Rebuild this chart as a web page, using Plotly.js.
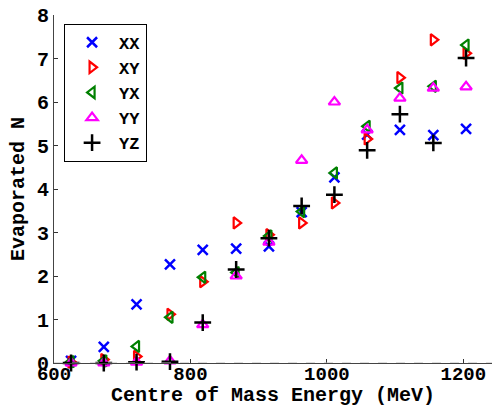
<!DOCTYPE html>
<html><head><meta charset="utf-8">
<script src="https://cdn.plot.ly/plotly-3.0.1.min.js"></script>
<style>html,body{margin:0;padding:0;background:#fff}#chart{width:492px;height:407px}</style>
</head><body><div id="chart"></div>
<script>
const energy = [625, 673, 721, 770, 818, 867, 915, 963, 1011, 1059, 1107, 1156, 1204];
const seriesNames = ['XX', 'XY', 'YX', 'YY', 'YZ'];
const XX = [0.05, 0.37, 1.35, 2.27, 2.60, 2.63, 2.68, 3.47, 4.27, 5.25, 5.36, 5.24, 5.38];
const XY = [0.02, 0.08, 0.15, 1.12, 1.87, 3.22, 2.95, 3.22, 3.68, 5.15, 6.56, 7.43, 7.12];
const YX = [0.03, 0.05, 0.38, 1.05, 1.97, 2.08, 2.92, 3.48, 4.37, 5.44, 6.32, 6.36, 7.31];
const YY = [0.00, 0.00, 0.02, 0.05, 0.88, 2.00, 2.78, 4.66, 6.00, 5.36, 6.09, 6.32, 6.35];
const YZ = [0.00, 0.00, 0.02, 0.03, 0.93, 2.15, 2.87, 3.61, 3.87, 4.89, 5.72, 5.06, 7.01];
const values = [XX, XY, YX, YY, YZ];
const colors = ['#0000ff', '#ff0000', '#008000', '#ff00ff', '#000000'];
const symbols = ['x-thin-open', 'triangle-right-open', 'triangle-left-open', 'triangle-up-open', 'cross-thin-open'];
const sizes = [10, 10, 10, 10, 12];
const widths = [2.5, 2.2, 2.2, 2.2, 2.5];

const FAM = 'Liberation Mono, Courier New, monospace';
const FONT = {family: FAM, size: 20, color: '#000', weight: 'bold'};
const XTICKFONT = {family: FAM, size: 19, color: '#000', weight: 'bold'};
const TITLEFONT = {family: FAM, size: 20, color: '#000', weight: 'bold'};
const LEGFONT = {family: FAM, size: 17, color: '#000', weight: 'bold'};

const traces = seriesNames.map((n, i) => ({
  type: 'scatter', mode: 'markers', name: n, x: energy, y: values[i],
  marker: {symbol: symbols[i], size: sizes[i], color: colors[i], line: {color: colors[i], width: widths[i]}},
  cliponaxis: false
}));

const layout = {
  width: 492, height: 407,
  margin: {l: 54, r: 0, t: 15, b: 44},
  paper_bgcolor: '#fff', plot_bgcolor: '#fff',
  font: FONT,
  showlegend: true,
  legend: {x: 0.023, y: 0.975, xanchor: 'left', yanchor: 'top', bgcolor: '#fff',
    bordercolor: '#000', borderwidth: 1, font: LEGFONT, itemwidth: 44, tracegroupgap: 0},
  xaxis: {range: [600, 1242], tickvals: [600, 800, 1000, 1200], ticks: 'inside', ticklen: 4,
    tickcolor: '#333', showline: true, linecolor: '#444', linewidth: 1, showgrid: false, zeroline: false,
    tickfont: XTICKFONT, ticklabelstandoff: -7,
    title: {text: 'Centre of Mass Energy (MeV)', font: TITLEFONT, standoff: 0}},
  yaxis: {range: [0, 8], dtick: 1, ticks: 'inside', ticklen: 4, tickcolor: '#333',
    showline: true, linecolor: '#444', linewidth: 1, showgrid: false, zeroline: false,
    tickfont: FONT, title: {text: 'Evaporated N', font: FONT, standoff: 6}},
  shapes: [{type: 'line', xref: 'paper', yref: 'y', x0: 0, x1: 1, y0: 0, y1: 0,
    line: {color: '#bbb', width: 1, dash: 'dash'}, layer: 'above'}]
};

Plotly.newPlot('chart', traces, layout, {displayModeBar: false, staticPlot: true});
</script></body></html>
